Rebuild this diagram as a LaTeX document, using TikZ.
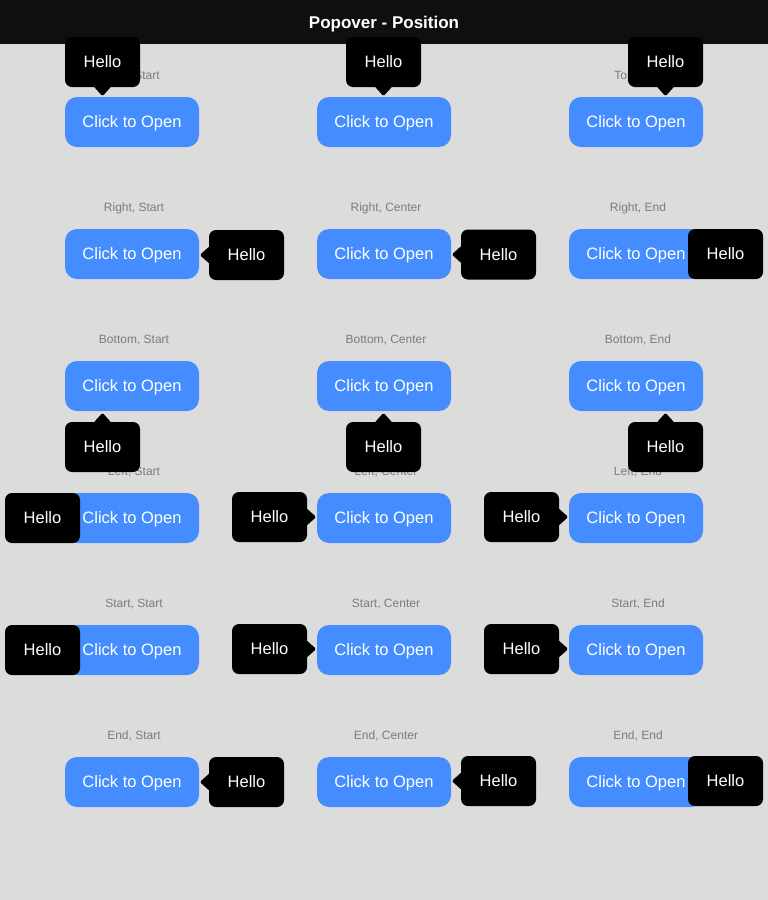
\documentclass[tikz,border=0pt]{standalone}
\usepackage{fontspec}
\setmainfont{Liberation Sans}
\usepackage{tikz}
\usetikzlibrary{arrows.meta}

\definecolor{pagebg}{HTML}{DCDCDC}
\definecolor{barbg}{HTML}{0F0F0F}
\definecolor{btnblue}{HTML}{458DFF}
\definecolor{lblgray}{HTML}{7C7C7C}

\begin{document}
\begin{tikzpicture}[
        x=1pt, y=-1pt,
        btn/.style={fill=btnblue, text=white, rounded corners=12pt, minimum width=134pt,
            minimum height=50pt, inner sep=0pt, text height=11.8pt, text depth=0pt,
            font=\fontsize{16.5}{19}\selectfont},
        pop/.style={fill=black, text=white, rounded corners=7pt, minimum width=75pt,
            minimum height=50pt, inner sep=0pt, text height=11.8pt, text depth=0pt,
            font=\fontsize{16.5}{19}\selectfont},
        lbl/.style={text=lblgray, inner sep=0pt, text height=8.6pt, text depth=0pt,
            font=\fontsize{12}{14}\selectfont},
        tip/.style={fill=black, rounded corners=1.5pt}]

        % --- page and title bar ---
        \fill[pagebg] (0,0) rectangle (768,900);
        \useasboundingbox (0,0) rectangle (768,900);
        \fill[barbg] (0,0) rectangle (768,44);
        \node[text=white, inner sep=0pt, text height=12.2pt, text depth=0pt,
            font=\bfseries\fontsize{17}{20}\selectfont] (title) at (384,22) {Popover - Position};

        % --- labels and buttons ---
        \foreach \r [count=\j] in {Top, Right, Bottom, Left, Start, End}
            \foreach \c [count=\i] in {Start, Center, End} {
                \node[lbl] (l\j\i) at ({134+252*(\i-1)}, {75.5+132*(\j-1)}) {\r, \c};
                \node[btn] (b\j\i) at ({132+252*(\i-1)}, {122+132*(\j-1)}) {Click to Open};
            }

        % --- popovers ---
        % Top
        \node[pop] (p11) at (102.5,62) {Hello};
        \node[pop] (p12) at (383.5,62) {Hello};
        \node[pop] (p13) at (665.5,62) {Hello};
        % Right
        \node[pop] (p21) at (246.5,255) {Hello};
        \node[pop] (p22) at (498.5,254.5) {Hello};
        \node[pop] (p23) at (725.5,254) {Hello};
        % Bottom
        \node[pop] (p31) at (102.5,447) {Hello};
        \node[pop] (p32) at (383.5,447) {Hello};
        \node[pop] (p33) at (665.5,447) {Hello};
        % Left
        \node[pop] (p41) at (42.5,518) {Hello};
        \node[pop] (p42) at (269.5,517) {Hello};
        \node[pop] (p43) at (521.5,517) {Hello};
        % Start
        \node[pop] (p51) at (42.5,650) {Hello};
        \node[pop] (p52) at (269.5,649) {Hello};
        \node[pop] (p53) at (521.5,649) {Hello};
        % End
        \node[pop] (p61) at (246.5,782) {Hello};
        \node[pop] (p62) at (498.5,781) {Hello};
        \node[pop] (p63) at (725.5,781) {Hello};

        % --- popover tips ---
        \foreach \p in {p11, p12, p13}
            \fill[tip] ([xshift=-9pt, yshift=1pt]\p.south) -- ([yshift=-9pt]\p.south) -- ([xshift=9pt, yshift=1pt]\p.south) -- cycle;
        \foreach \p in {p31, p32, p33}
            \fill[tip] ([xshift=-9pt, yshift=-1pt]\p.north) -- ([yshift=9pt]\p.north) -- ([xshift=9pt, yshift=-1pt]\p.north) -- cycle;
        \foreach \p in {p21, p22, p61, p62}
            \fill[tip] ([xshift=1pt, yshift=9pt]\p.west) -- ([xshift=-9pt]\p.west) -- ([xshift=1pt, yshift=-9pt]\p.west) -- cycle;
        \foreach \p in {p42, p43, p52, p53}
            \fill[tip] ([xshift=-1pt, yshift=9pt]\p.east) -- ([xshift=9pt]\p.east) -- ([xshift=-1pt, yshift=-9pt]\p.east) -- cycle;

    \end{tikzpicture}
\end{document}
